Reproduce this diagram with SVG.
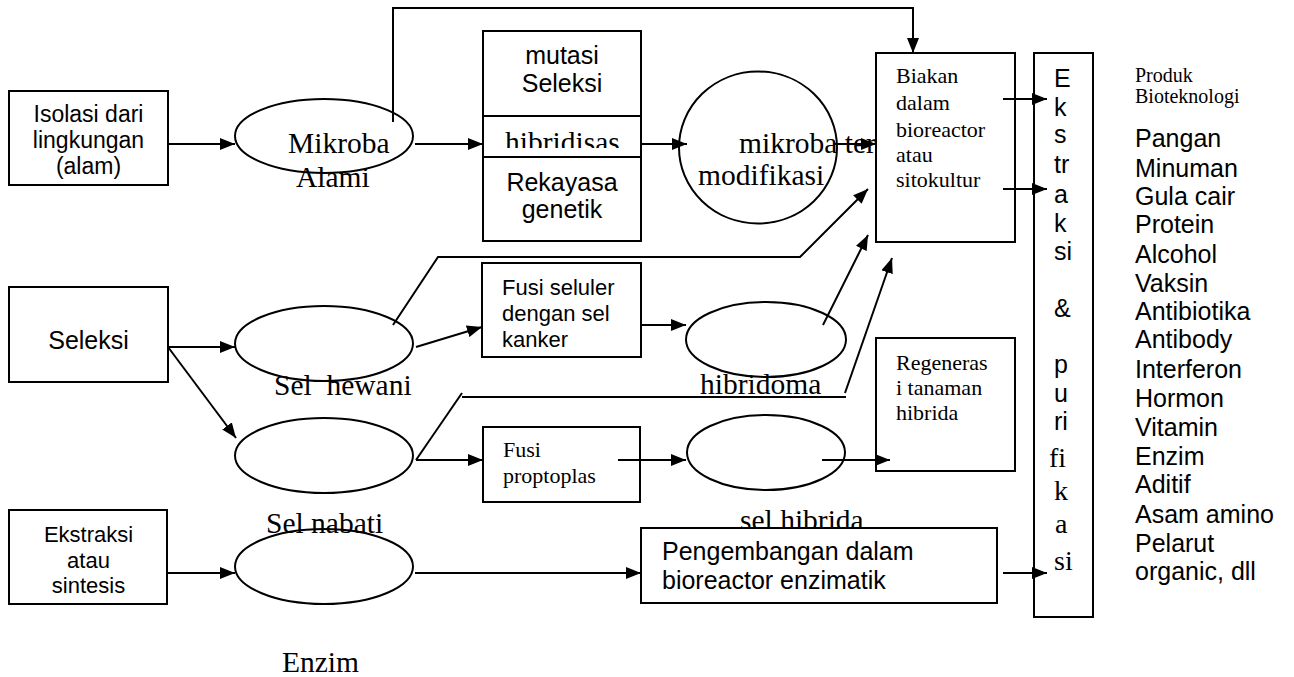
<svg xmlns="http://www.w3.org/2000/svg" width="1294" height="677" viewBox="0 0 1294 677">
  <style>
    .box { fill: #fff; stroke: #000; stroke-width: 2; }
    .open { fill: none; stroke: #000; stroke-width: 2; }
    .sans { font-family: "Liberation Sans", Arial, sans-serif; fill: #000; }
    .serif { font-family: "Liberation Serif", "Times New Roman", serif; fill: #000; }
    .s25 { font-size: 25px; }
    .s23 { font-size: 23px; }
    .s22 { font-size: 22px; }
    .t29 { font-size: 29.5px; }
    .t28 { font-size: 28px; }
    .t22 { font-size: 22px; }
    .t20 { font-size: 20px; }
    .mid { text-anchor: middle; }
    .wire { fill: none; stroke: #000; stroke-width: 2; }
    .arr { marker-end: url(#ah); }
  </style>
  <defs>
    <marker id="ah" viewBox="0 0 15 12" refX="15" refY="6" markerWidth="15" markerHeight="12" orient="auto" markerUnits="userSpaceOnUse">
      <path d="M0,0 L15,6 L0,12 z" fill="#000"/>
    </marker>
    <clipPath id="cellClip">
      <rect x="484" y="117" width="156" height="31"/>
    </clipPath>
  </defs>

  <rect width="1294" height="677" fill="#fff"/>

  <!-- sources -->
  <g id="isolasi">
    <rect class="box" x="9" y="91" width="159" height="94"/>
    <text class="sans s23 mid" x="88.5" y="122">Isolasi dari</text>
    <text class="sans s23 mid" x="88.5" y="148">lingkungan</text>
    <text class="sans s23 mid" x="88.5" y="174">(alam)</text>
  </g>
  <g id="seleksi">
    <rect class="box" x="9" y="287" width="159" height="95"/>
    <text class="sans s25 mid" x="88.5" y="349">Seleksi</text>
  </g>
  <g id="ekstraksi-sintesis">
    <rect class="box" x="9" y="510" width="158" height="94"/>
    <text class="sans s22 mid" x="88.5" y="542">Ekstraksi</text>
    <text class="sans s22 mid" x="88.5" y="568">atau</text>
    <text class="sans s22 mid" x="88.5" y="593">sintesis</text>
  </g>

  <!-- organisms / cells -->
  <g id="mikroba-alami">
    <ellipse class="open" cx="324" cy="136" rx="89" ry="37"/>
    <text class="serif t29" x="288" y="153">Mikroba</text>
    <text class="serif t29" x="296" y="187">Alami</text>
  </g>
  <g id="sel-hewani">
    <ellipse class="open" cx="324" cy="343.5" rx="89" ry="37.5"/>
    <text class="serif t29" x="274" y="395" xml:space="preserve">Sel  hewani</text>
  </g>
  <g id="sel-nabati">
    <ellipse class="open" cx="324" cy="455.5" rx="89" ry="37.5"/>
    <text class="serif t29" x="266" y="533">Sel nabati</text>
  </g>
  <g id="enzim">
    <ellipse class="open" cx="324" cy="566.5" rx="89" ry="37.5"/>
    <text class="serif t29" x="282" y="672">Enzim</text>
  </g>

  <!-- modification methods -->
  <g id="metode">
    <rect class="box" x="483" y="31" width="158" height="85"/>
    <text class="sans s25 mid" x="562" y="64">mutasi</text>
    <text class="sans s25 mid" x="562" y="92">Seleksi</text>
    <rect class="box" x="483" y="116" width="158" height="41"/>
    <text class="serif t29" x="505" y="152" clip-path="url(#cellClip)">hibridisas</text>
    <rect class="box" x="483" y="157" width="158" height="84"/>
    <text class="sans s25 mid" x="562" y="191">Rekayasa</text>
    <text class="sans s25 mid" x="562" y="218">genetik</text>
  </g>
  <g id="fusi-seluler">
    <rect class="box" x="482" y="263" width="159" height="94"/>
    <text class="sans s22" x="502" y="295">Fusi seluler</text>
    <text class="sans s22" x="502" y="321">dengan sel</text>
    <text class="sans s22" x="502" y="347">kanker</text>
  </g>
  <g id="fusi-protoplas">
    <rect class="box" x="483" y="427" width="157" height="75"/>
    <text class="serif t22" x="503" y="457">Fusi</text>
    <text class="serif t22" x="503" y="483">proptoplas</text>
  </g>

  <!-- products of the modifications -->
  <g id="mikroba-termodifikasi">
    <ellipse class="open" cx="758" cy="147.5" rx="79" ry="76"/>
    <text class="serif t29" x="739" y="153">mikroba ter</text>
    <text class="serif t29" x="698" y="185">modifikasi</text>
  </g>
  <g id="hibridoma">
    <ellipse class="open" cx="766" cy="339.5" rx="80" ry="37.5"/>
    <text class="serif t29" x="700" y="394">hibridoma</text>
  </g>
  <g id="sel-hibrida">
    <ellipse class="open" cx="766" cy="452.5" rx="79" ry="37.5"/>
    <text class="serif t29" x="740" y="530">sel hibrida</text>
  </g>

  <!-- processing -->
  <g id="biakan">
    <rect class="box" x="876" y="53" width="139" height="189"/>
    <text class="serif t22" x="896" y="83">Biakan</text>
    <text class="serif t22" x="896" y="110">dalam</text>
    <text class="serif t22" x="896" y="137">bioreactor</text>
    <text class="serif t22" x="896" y="162">atau</text>
    <text class="serif t22" x="896" y="187">sitokultur</text>
  </g>
  <g id="regenerasi">
    <rect class="box" x="876" y="338" width="139" height="133"/>
    <text class="serif t22" x="896" y="370">Regeneras</text>
    <text class="serif t22" x="896" y="395">i tanaman</text>
    <text class="serif t22" x="896" y="420">hibrida</text>
  </g>
  <g id="bioreactor-enzimatik">
    <rect class="box" x="641" y="528" width="356" height="75"/>
    <text class="sans s25" x="662" y="560">Pengembangan dalam</text>
    <text class="sans s25" x="662" y="589">bioreactor enzimatik</text>
  </g>
  <g id="ekstraksi-purifikasi">
    <rect class="box" x="1034" y="53" width="59" height="564"/>
    <text class="sans s25" x="1054" y="87">E</text>
    <text class="sans s25" x="1054" y="116">k</text>
    <text class="sans s25" x="1054" y="143">s</text>
    <text class="sans s25" x="1054" y="173">tr</text>
    <text class="sans s25" x="1054" y="203">a</text>
    <text class="sans s25" x="1054" y="232">k</text>
    <text class="sans s25" x="1054" y="260">si</text>
    <text class="sans s25" x="1054" y="317">&amp;</text>
    <text class="sans s25" x="1054" y="373">p</text>
    <text class="sans s25" x="1054" y="402">u</text>
    <text class="sans s25" x="1054" y="430">ri</text>
    <text class="serif t28" x="1049" y="467">fi</text>
    <text class="serif t28" x="1054" y="500">k</text>
    <text class="serif t28" x="1055" y="533">a</text>
    <text class="serif t28" x="1054" y="570">si</text>
  </g>

  <!-- product list -->
  <g id="produk">
    <text class="serif t20" x="1135" y="82">Produk</text>
    <text class="serif t20" x="1135" y="103">Bioteknologi</text>
    <g class="sans s25">
      <text x="1135" y="147">Pangan</text>
      <text x="1135" y="177">Minuman</text>
      <text x="1135" y="205">Gula cair</text>
      <text x="1135" y="233">Protein</text>
      <text x="1135" y="263">Alcohol</text>
      <text x="1135" y="292">Vaksin</text>
      <text x="1135" y="320">Antibiotika</text>
      <text x="1135" y="348">Antibody</text>
      <text x="1135" y="378">Interferon</text>
      <text x="1135" y="407">Hormon</text>
      <text x="1135" y="436">Vitamin</text>
      <text x="1135" y="465">Enzim</text>
      <text x="1135" y="493">Aditif</text>
      <text x="1135" y="523">Asam amino</text>
      <text x="1135" y="552">Pelarut</text>
      <text x="1135" y="580">organic, dll</text>
    </g>
  </g>

  <!-- connectors -->
  <g id="connectors">
    <path class="wire arr" d="M168,144 H235"/>
    <path class="wire arr" d="M393,122 V8 H913 V53"/>
    <path class="wire arr" d="M415,144 H483"/>
    <path class="wire arr" d="M641,144 H687"/>
    <path class="wire arr" d="M833,144 H876"/>
    <path class="wire arr" d="M1003,99 H1047"/>
    <path class="wire arr" d="M1003,189 H1047"/>
    <path class="wire arr" d="M168,347 H235"/>
    <path class="wire arr" d="M168,347 L236,438"/>
    <path class="wire arr" d="M393,325 L438,257 H800 L868,189"/>
    <path class="wire arr" d="M416,347 L482,327"/>
    <path class="wire arr" d="M641,325 H686"/>
    <path class="wire arr" d="M823,325 L868,235"/>
    <path class="wire" d="M416,460 L462,393"/>
    <path class="wire" d="M462,397 H846"/>
    <path class="wire arr" d="M845,393 L892,258"/>
    <path class="wire arr" d="M416,460 H483"/>
    <path class="wire arr" d="M618,460 H686"/>
    <path class="wire arr" d="M822,460 H890"/>
    <path class="wire arr" d="M167,573 H235"/>
    <path class="wire arr" d="M415,573 H641"/>
    <path class="wire arr" d="M1003,573 H1047"/>
  </g>
</svg>
